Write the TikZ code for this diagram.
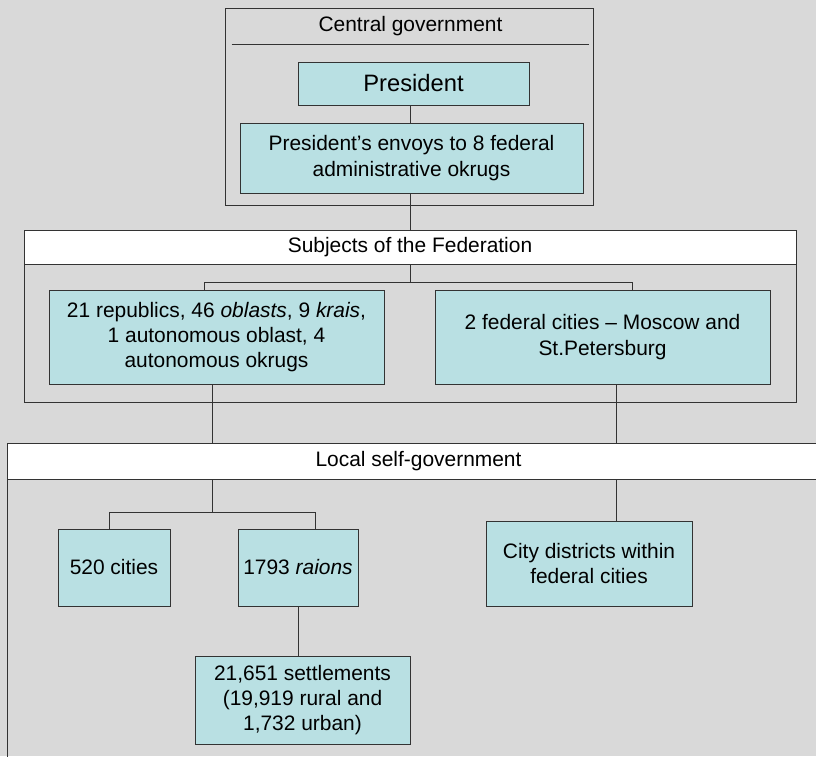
\documentclass[tikz,border=0pt]{standalone}
\usepackage{fontspec}
\setmainfont{Liberation Sans}
\definecolor{bggray}{RGB}{217,217,217}
\definecolor{boxcyan}{RGB}{185,224,227}
\tikzset{
  box/.style={draw=black!80, fill=boxcyan, inner sep=0pt, align=center,
    font=\fontsize{15.7}{19}\selectfont},
  frame/.style={draw=black!80, inner sep=0pt},
  head/.style={inner sep=0pt, font=\fontsize{15.7}{19}\selectfont}
}
\begin{document}
\begin{tikzpicture}[x=0.75pt,y=-0.75pt]
          \useasboundingbox (0,0) rectangle (816,756);
          \fill [bggray] (0,0) rectangle (816,756);
          \clip (0,0) rectangle (816,756);
          % central government
          \node [frame, minimum width=276pt, minimum height=147.75pt] (central) at (409,106.5) {};
          \node [head, minimum width=268pt, minimum height=27pt] (centralhead) at (410.5,26) {Central government};
          \draw [black!80] (centralhead.south west) to (centralhead.south east);
          \node [box, minimum width=173.25pt, minimum height=32.25pt,
            font=\fontsize{17.8}{21}\selectfont] (president) at (413.5,83.5) {President};
          \node [box, minimum width=257.25pt, minimum height=52.5pt] (envoys) at (411.5,158)
            {President's envoys to 8 federal\\administrative okrugs};
          % subjects of the federation
          \node [frame, minimum width=579pt, minimum height=129pt] (subjects) at (410,316) {};
          \node [frame, head, fill=white, minimum width=579pt, minimum height=25.5pt] (subjhead) at (410,247)
            {Subjects of the Federation};
          \node [box, minimum width=251.25pt, minimum height=70.5pt] (republics) at (216.5,337)
            {21 republics, 46 \emph{oblasts}, 9 \emph{krais},\\1 autonomous oblast, 4\\autonomous okrugs};
          \node [box, minimum width=251.25pt, minimum height=70.5pt] (fedcities) at (602.5,337)
            {2 federal cities – Moscow and\\St.Petersburg};
          % local self-government
          \node [frame, minimum width=617.25pt, minimum height=245.25pt] (local) at (418.5,606.5) {};
          \node [frame, head, fill=white, minimum width=617.25pt, minimum height=27pt] (localhead) at (418.5,461)
            {Local self-government};
          \node [box, minimum width=84pt, minimum height=57.75pt] (cities) at (114,567.5) {520 cities};
          \node [box, minimum width=90pt, minimum height=57.75pt] (raions) at (298,567.5) {1793 \emph{raions}};
          \node [box, minimum width=161.25pt, minimum height=66pt] (settlements) at (302.5,700)
            {21,651 settlements\\(19,919 rural and\\1,732 urban)};
          \node [box, minimum width=154.5pt, minimum height=63.75pt] (citydist) at (589,563.5)
            {City districts within\\federal cities};
          % connectors
          \coordinate (repdrop) at (204,290);
          \coordinate (feddrop) at (632,290);
          \coordinate (repout) at (212,384);
          \coordinate (fedout) at (616,384);
          \coordinate (citydrop) at (109,529);
          \coordinate (raiondrop) at (315,529);
          \draw [black!80] (president.south -| 410,0) to (envoys.north -| 410,0);
          \draw [black!80] (envoys.south -| 410,0) to (subjhead.north -| 410,0);
          \draw [black!80] (subjhead.south -| 410,0) -- ++(0,18) -| (repdrop);
          \draw [black!80] (subjhead.south -| 410,0) -- ++(0,18) -| (feddrop);
          \draw [black!80] (repout) to (repout |- localhead.north);
          \draw [black!80] (fedout) to (fedout |- localhead.north);
          \draw [black!80] (repout |- localhead.south) -- ++(0,33) -| (citydrop);
          \draw [black!80] (repout |- localhead.south) -- ++(0,33) -| (raiondrop);
          \draw [black!80] (fedout |- localhead.south) to (fedout |- citydist.north);
          \draw [black!80] (raions.south) to (raions.south |- settlements.north);
        \end{tikzpicture}
\end{document}
